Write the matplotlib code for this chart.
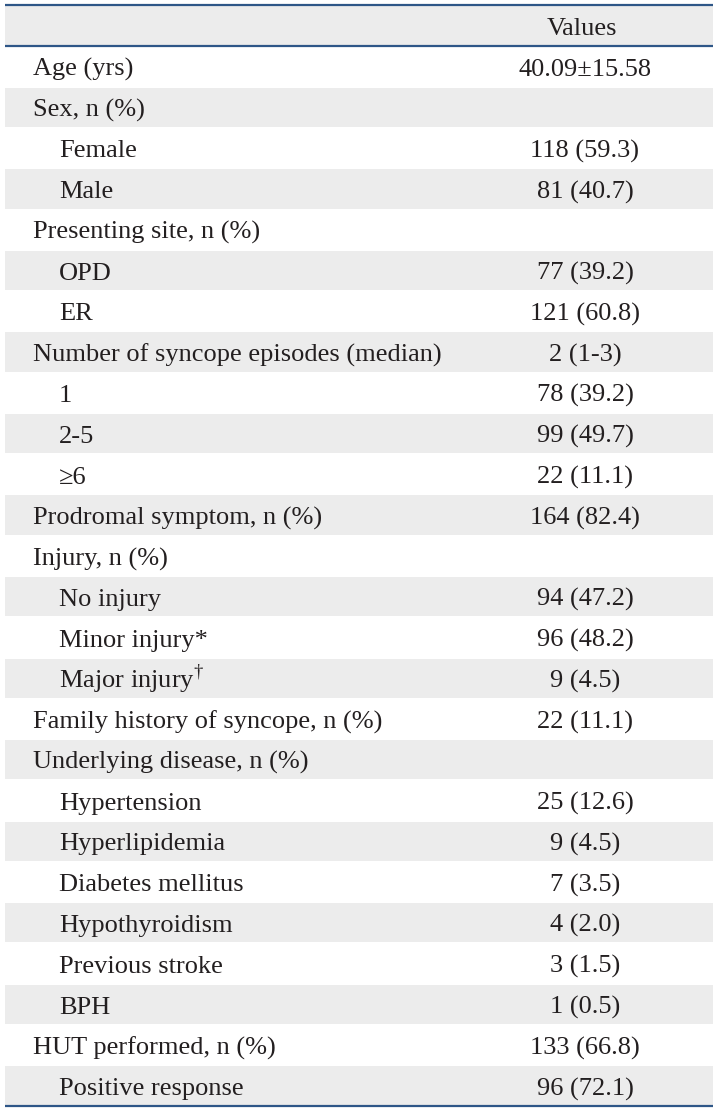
import matplotlib
matplotlib.use("Agg")
import matplotlib.pyplot as plt
from matplotlib.patches import Rectangle

labels = ["Age (yrs)", "Sex, n (%)", "Female", "Male", "Presenting site, n (%)", "OPD", "ER",
          "Number of syncope episodes (median)", "1", "2-5", "\u22656",
          "Prodromal symptom, n (%)", "Injury, n (%)", "No injury", "Minor injury*",
          "Major injury$^{\\dagger}$", "Family history of syncope, n (%)", "Underlying disease, n (%)",
          "Hypertension", "Hyperlipidemia", "Diabetes mellitus", "Hypothyroidism",
          "Previous stroke", "BPH", "HUT performed, n (%)", "Positive response"]
indent = [0, 0, 1, 1, 0, 1, 1, 0, 1, 1, 1, 0, 0, 1, 1, 1, 0, 0, 1, 1, 1, 1, 1, 1, 0, 1]
values = ["40.09\u00b115.58", "", "118 (59.3)", "81 (40.7)", "", "77 (39.2)", "121 (60.8)",
          "2 (1-3)", "78 (39.2)", "99 (49.7)", "22 (11.1)", "164 (82.4)", "",
          "94 (47.2)", "96 (48.2)", "9 (4.5)", "22 (11.1)", "", "25 (12.6)", "9 (4.5)",
          "7 (3.5)", "4 (2.0)", "3 (1.5)", "1 (0.5)", "133 (66.8)", "96 (72.1)"]
header = "Values"

W, H = 715, 1112
fig = plt.figure(figsize=(W / 100, H / 100), dpi=100)
ax = fig.add_axes([0, 0, 1, 1])
ax.set_xlim(0, W)
ax.set_ylim(H, 0)
ax.axis("off")

plt.rcParams["mathtext.fontset"] = "custom"
plt.rcParams["mathtext.rm"] = "Liberation Serif"
font = dict(family="Liberation Serif", fontsize=19, color="#231f20")

x0, x1 = 5, 713
top, head_bot = 5, 46
n = len(labels)
bottom = 1106
rh = (bottom - head_bot) / n
line_c = "#2e5687"
gray = "#ececec"
base_off = 9.5
vx = 585

# header background
ax.add_patch(Rectangle((x0, top), x1 - x0, head_bot - top, color=gray, lw=0))

for i in range(n):
    y = head_bot + i * rh
    if i % 2 == 1:
        ax.add_patch(Rectangle((x0, y + 1), x1 - x0, rh - 1.5, color=gray, lw=0))
    yb = y + rh / 2 + base_off
    ax.text(33 + 26 * indent[i], yb, labels[i], ha="left", va="baseline", **font)
    if values[i]:
        ax.text(vx, yb, values[i], ha="center", va="baseline", **font)

ax.text(582, (top + head_bot) / 2 + base_off, header, ha="center", va="baseline", **font)
for yy in (top, head_bot, bottom):
    ax.plot([x0, x1], [yy, yy], color=line_c, lw=1.6, solid_capstyle="butt")

fig.savefig("out.png", dpi=100, facecolor="white")
